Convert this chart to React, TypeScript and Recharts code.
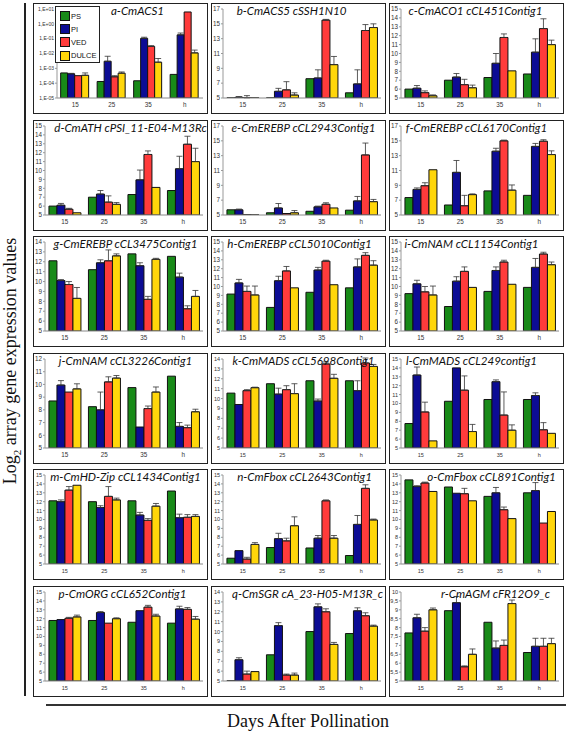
import React from "react";
import { BarChart, Bar, XAxis, YAxis, ErrorBar, Legend } from "recharts";

const groups = ["15", "25", "35", "h"];
const seriesNames = ["PS", "PI", "VED", "DULCE"];
const seriesColors = ["#188a18", "#0c0c94", "#ff3b3b", "#ffd60a"];

// each panel: [PS, PI, VED, DULCE] x [15, 25, 35, h]
const acs1 = [
  [4.9e-4, 1.3e-4, 1.45e-4, 3.9e-4],
  [4.3e-4, 3.0e-3, 0.105, 0.18],
  [3.2e-4, 2.7e-4, 0.03, 6.3],
  [3.4e-4, 4.7e-4, 2.6e-3, 0.011],
];
const acs1Err = [
  [0, 0, 0, 0],
  [3e-5, 3.5e-3, 0.02, 0.06],
  [0, 5e-5, 0.004, 0],
  [1.5e-4, 1e-4, 2e-3, 0.006],
];
const acs5 = [
  [5.02, 5.02, 7.6, 5.7],
  [5.1, 5.9, 7.7, 6.9],
  [5.02, 6.1, 15.5, 14.1],
  [5.02, 5.4, 9.5, 14.5],
];
const acs5Err = [
  [0, 0, 0, 0],
  [0.1, 0.4, 1.1, 1.9],
  [0.3, 1.1, 0.1, 0.8],
  [0, 0.3, 1.1, 0.5],
];
const aco1 = [
  [6.0, 7.0, 7.3, 7.7],
  [6.1, 7.35, 8.9, 10.15],
  [5.6, 6.5, 11.8, 12.8],
  [5.25, 6.15, 8.05, 11.0],
];
const aco1Err = [
  [0, 0, 0, 0],
  [0.3, 0.4, 1.1, 1.5],
  [0.2, 0.6, 0.4, 1.1],
  [0.1, 0.3, 0, 0.5],
];
const ath = [
  [6.0, 7.0, 7.3, 7.75],
  [6.1, 7.35, 8.95, 10.2],
  [5.65, 6.45, 11.8, 12.95],
  [5.25, 6.2, 8.1, 11.0],
];
const athErr = [
  [0, 0, 0, 0],
  [0.2, 0.4, 1.1, 1.4],
  [0.1, 0.7, 0.4, 0.9],
  [0, 0.2, 0, 1.5],
];
const erebp2943 = [
  [5.7, 5.3, 5.5, 5.65],
  [5.7, 5.95, 6.1, 6.9],
  [5.05, 5.2, 6.45, 13.1],
  [5.02, 5.3, 5.95, 6.8],
];
const erebp2943Err = [
  [0, 0, 0, 0],
  [0.1, 0.6, 0.1, 0.6],
  [0, 0, 0.2, 1.6],
  [0, 0.3, 0, 0.3],
];
const erebp6170 = [
  [7.35, 6.35, 8.25, 7.65],
  [8.45, 10.75, 13.6, 14.25],
  [8.95, 6.25, 15.0, 14.95],
  [11.1, 7.75, 8.35, 13.15],
];
const erebp6170Err = [
  [0, 0, 0, 0],
  [0.2, 1.6, 0.4, 0.4],
  [0.4, 1.4, 0.1, 0.2],
  [0, 0.1, 0.7, 0.5],
];
const erebp3475 = [
  [12.1, 11.2, 12.8, 12.55],
  [10.1, 11.9, 11.6, 10.45],
  [9.7, 12.1, 8.2, 7.25],
  [8.3, 12.6, 12.25, 8.5],
];
const erebp3475Err = [
  [0, 0, 0, 0],
  [0.1, 0.3, 0.3, 0.4],
  [0.3, 1.1, 0.3, 0.3],
  [1.1, 0.2, 0.1, 0.6],
];
const erebp5010 = [
  [9.15, 7.65, 9.35, 9.85],
  [10.4, 10.65, 11.85, 12.2],
  [9.45, 11.75, 12.85, 13.5],
  [9.05, 9.85, 10.2, 12.4],
];
const erebp5010Err = [
  [0, 0, 0, 0],
  [0.4, 0.5, 0.3, 0.9],
  [0.6, 0.5, 0.1, 0.3],
  [1.0, 0, 0, 0.5],
];
const nam1154 = [
  [9.2, 7.75, 9.45, 9.9],
  [10.3, 10.6, 11.8, 12.15],
  [9.4, 11.7, 12.75, 13.65],
  [9.05, 9.9, 10.25, 12.45],
];
const nam1154Err = [
  [0, 0, 0, 0],
  [0.4, 0.5, 0.4, 1.0],
  [0.6, 0.5, 0.2, 0.2],
  [1.0, 0, 0, 0.3],
];
const nam3226 = [
  [8.7, 8.25, 9.75, 10.65],
  [9.95, 8.0, 6.65, 6.7],
  [9.4, 10.2, 8.1, 6.6],
  [9.65, 10.5, 9.4, 7.85],
];
const nam3226Err = [
  [0, 0, 0, 0],
  [0.35, 1.4, 0, 0.3],
  [0, 0.4, 0.2, 0.2],
  [0.4, 0.2, 0.4, 0.2],
];
const mads5698 = [
  [10.55, 11.5, 11.8, 11.8],
  [9.4, 10.45, 9.75, 10.8],
  [10.8, 10.9, 13.5, 13.6],
  [11.1, 10.5, 12.05, 13.25],
];
const mads5698Err = [
  [0, 0, 0, 0],
  [0, 0.6, 0.2, 1.0],
  [0.1, 0.4, 0.2, 0.5],
  [0.05, 1.0, 0.4, 0.2],
];
const mads249 = [
  [7.75, 10.25, 10.45, 10.45],
  [13.2, 14.0, 12.45, 10.9],
  [9.05, 11.5, 8.7, 7.05],
  [5.8, 6.85, 7.0, 6.65],
];
const mads249Err = [
  [0, 0, 0, 0],
  [0.9, 0, 0.2, 0.3],
  [1.1, 1.6, 2.6, 0.8],
  [0, 0.8, 0.6, 0],
];
const hdzip = [
  [12.1, 12.0, 12.1, 13.2],
  [12.0, 11.35, 10.5, 10.2],
  [13.3, 12.6, 9.9, 10.25],
  [13.85, 12.2, 11.5, 10.35],
];
const hdzipErr = [
  [0, 0, 0, 0],
  [0.2, 0.2, 0.3, 0.4],
  [0.4, 1.1, 0.2, 0.3],
  [0, 0.2, 0.3, 0.2],
];
const fbox2643 = [
  [5.65, 6.85, 6.8, 5.95],
  [6.5, 7.85, 7.9, 9.45],
  [5.55, 7.6, 12.1, 13.5],
  [7.2, 9.3, 7.9, 9.95],
];
const fbox2643Err = [
  [0, 0, 0, 0],
  [0, 0.6, 0.3, 1.0],
  [0.2, 0.3, 0.1, 0.4],
  [0.2, 1.0, 0.3, 0.1],
];
const fbox891 = [
  [14.45, 13.65, 12.6, 13.0],
  [13.7, 12.95, 13.0, 13.25],
  [14.1, 12.9, 11.1, 9.6],
  [13.15, 12.1, 10.1, 10.9],
];
const fbox891Err = [
  [0, 0, 0, 0],
  [0.1, 0, 0.6, 0.9],
  [0.1, 0.6, 0.3, 0],
  [0, 0, 0, 0],
];
const org = [
  [11.8, 11.8, 11.6, 11.5],
  [11.9, 12.7, 12.9, 13.1],
  [12.05, 11.5, 13.3, 13.05],
  [12.2, 12.0, 12.3, 11.95],
];
const orgErr = [
  [0, 0, 0, 0],
  [0, 0.1, 0, 0.3],
  [0.1, 0, 0.2, 0.2],
  [0.2, 0.1, 0.2, 0.3],
];
const sgr = [
  [5.03, 7.65, 10.0, 9.8],
  [7.15, 10.6, 12.5, 12.1],
  [5.7, 5.6, 12.0, 11.6],
  [5.95, 5.6, 8.7, 10.55],
];
const sgrErr = [
  [0, 0, 0, 0],
  [0.2, 0.3, 0.3, 0.3],
  [0.3, 0.1, 0.3, 0.3],
  [0, 0.2, 0.2, 0.1],
];
const agm = [
  [7.7, 8.95, 8.3, 6.6],
  [8.55, 9.4, 6.85, 6.95],
  [7.8, 5.8, 7.0, 6.95],
  [9.0, 6.5, 9.35, 7.1],
];
const agmErr = [
  [0, 0, 0, 0],
  [0.2, 0.35, 0.4, 0.45],
  [0.2, 0.05, 0.3, 0.45],
  [0.1, 0.3, 0.2, 0.3],
];

const ticksLog = [1e-5, 1e-4, 1e-3, 1e-2, 1e-1, 1, 10];
const ticks17 = [5, 7, 9, 11, 13, 15, 17];
const ticks15 = [5, 6, 7, 8, 9, 10, 11, 12, 13, 14, 15];
const ticks14 = [5, 6, 7, 8, 9, 10, 11, 12, 13, 14];
const ticks12 = [5, 6, 7, 8, 9, 10, 11, 12];
const ticks10 = [5, 5.5, 6, 6.5, 7, 7.5, 8, 8.5, 9, 9.5, 10];

const panels = [
  { title: "a-CmACS1", values: acs1, errors: acs1Err, ticks: ticksLog },
  { title: "b-CmACS5 cSSH1N10", values: acs5, errors: acs5Err, ticks: ticks17 },
  { title: "c-CmACO1 cCL451Contig1", values: aco1, errors: aco1Err, ticks: ticks15 },
  { title: "d-CmATH cPSI_11-E04-M13Rc", values: ath, errors: athErr, ticks: ticks15 },
  { title: "e-CmEREBP cCL2943Contig1", values: erebp2943, errors: erebp2943Err, ticks: ticks17 },
  { title: "f-CmEREBP cCL6170Contig1", values: erebp6170, errors: erebp6170Err, ticks: ticks17 },
  { title: "g-CmEREBP cCL3475Contig1", values: erebp3475, errors: erebp3475Err, ticks: ticks14 },
  { title: "h-CmEREBP cCL5010Contig1", values: erebp5010, errors: erebp5010Err, ticks: ticks15 },
  { title: "i-CmNAM cCL1154Contig1", values: nam1154, errors: nam1154Err, ticks: ticks15 },
  { title: "j-CmNAM cCL3226Contig1", values: nam3226, errors: nam3226Err, ticks: ticks12 },
  { title: "k-CmMADS cCL5698Contig1", values: mads5698, errors: mads5698Err, ticks: ticks14 },
  { title: "l-CmMADS cCL249contig1", values: mads249, errors: mads249Err, ticks: ticks15 },
  { title: "m-CmHD-Zip cCL1434Contig1", values: hdzip, errors: hdzipErr, ticks: ticks15 },
  { title: "n-CmFbox cCL2643Contig1", values: fbox2643, errors: fbox2643Err, ticks: ticks15 },
  { title: "o-CmFbox cCL891Contig1", values: fbox891, errors: fbox891Err, ticks: ticks15 },
  { title: "p-CmORG cCL652Contig1", values: org, errors: orgErr, ticks: ticks15 },
  { title: "q-CmSGR cA_23-H05-M13R_c", values: sgr, errors: sgrErr, ticks: ticks14 },
  { title: "r-CmAGM cFR12O9_c", values: agm, errors: agmErr, ticks: ticks10 },
];

// layout
const colLeft = [33, 211, 389];
const rowTop = (r: number) => 3 + r * 116.6;
const titleShift = [17, -7, -1, 10, 5, 0, 5, 1, -5, 5, 5, -5, 5, 6, 15, 2, 9, 19];

const logTick = (v: number) => {
  const e = Math.round(Math.log10(v));
  return "1,E" + (e < 0 ? "-" : "+") + String(Math.abs(e)).padStart(2, "0");
};
const commaTick = (v: number) => String(v).replace(".", ",");

function LegendBox() {
  return (
    <div
      style={{
        border: "1.5px solid #222",
        background: "#fff",
        width: 45,
        height: 57,
        boxSizing: "border-box",
        padding: "3px 0 0 4px",
        fontFamily: "Arial, 'Liberation Sans', sans-serif",
        fontSize: 7.5,
        color: "#111",
      }}
    >
      {seriesNames.map((s, i) => (
        <div key={s} style={{ display: "flex", alignItems: "center", height: 13.2 }}>
          <span
            style={{
              display: "inline-block",
              width: 10,
              height: 10,
              background: seriesColors[i],
              border: "1px solid #111",
              boxSizing: "border-box",
              marginRight: 1,
            }}
          />
          {s}
        </div>
      ))}
    </div>
  );
}

function Panel({ index }: { index: number }) {
  const p = panels[index];
  const isLog = p.ticks === ticksLog;
  const data = groups.map((g, gi) => {
    const row: any = { group: g };
    seriesNames.forEach((s, si) => {
      row[s] = p.values[si][gi];
      const e = p.errors[si][gi];
      row[s + "Err"] = e ? [0, e] : null;
    });
    return row;
  });
  const small = index >= 10;
  const tickFont = { fontSize: small ? 5.5 : 6.3, fill: "#333", fontFamily: "Arial, 'Liberation Sans', sans-serif" };
  return (
    <div
      style={{
        position: "absolute",
        left: colLeft[index % 3],
        top: rowTop(Math.floor(index / 3)),
        width: 175,
        height: 111,
        border: "1.5px solid #222",
        boxSizing: "border-box",
        background: "#fff",
      }}
    >
      <BarChart
        width={172}
        height={108}
        data={data}
        margin={{ top: 5, right: 3, left: 0, bottom: 1 }}
        barCategoryGap="10%"
        barGap={0}
      >
        <XAxis
          dataKey="group"
          height={13}
          tickLine={false}
          tickSize={2}
          tickMargin={3}
          interval={0}
          axisLine={{ stroke: "#888" }}
          tick={tickFont}
        />
        <YAxis
          type="number"
          scale={isLog ? "log" : "auto"}
          domain={[p.ticks[0], p.ticks[p.ticks.length - 1]]}
          ticks={p.ticks}
          interval={0}
          width={isLog ? 23 : 11}
          tickSize={2}
          tickMargin={1}
          allowDataOverflow
          axisLine={{ stroke: "#999" }}
          tickLine={{ stroke: "#999" }}
          tick={isLog ? { ...tickFont, fontSize: 5 } : tickFont}
          tickFormatter={isLog ? logTick : commaTick}
        />
        {seriesNames.map((s, si) => (
          <Bar
            key={s}
            dataKey={s}
            fill={seriesColors[si]}
            stroke="#111"
            strokeWidth={1}
            isAnimationActive={false}
          >
            <ErrorBar dataKey={s + "Err"} width={3} stroke="#333" strokeWidth={0.8} />
          </Bar>
        ))}
        {isLog && (
          <Legend
            layout="vertical"
            align="center"
            verticalAlign="middle"
            wrapperStyle={{ left: 21, top: 1.5, width: 45, height: 57 }}
            content={() => <LegendBox />}
          />
        )}
      </BarChart>
      <div
        style={{
          position: "absolute",
          left: 0,
          right: 0,
          top: 0,
          textAlign: "center",
          transform: `translateX(${titleShift[index]}px)`,
          fontFamily: "Lato, 'Open Sans', sans-serif",
          fontStyle: "italic",
          fontSize: 11.6,
          lineHeight: "14px",
          color: "#111",
          whiteSpace: "nowrap",
          pointerEvents: "none",
        }}
      >
        {p.title}
      </div>
    </div>
  );
}

export default function App() {
  return (
    <div
      style={{
        position: "absolute",
        left: 0,
        top: 0,
        width: 567,
        height: 732,
        background: "#fff",
        overflow: "hidden",
      }}
    >
      <div style={{ position: "absolute", left: 24, top: 3, width: 1.5, height: 693, background: "#222" }} />
      <div
        style={{
          position: "absolute",
          left: 10 - 150,
          top: 361 - 11,
          width: 300,
          height: 22,
          lineHeight: "22px",
          textAlign: "center",
          transform: "rotate(-90deg)",
          fontFamily: "'Liberation Serif', 'DejaVu Serif', serif",
          fontSize: 18,
          color: "#111",
          whiteSpace: "nowrap",
        }}
      >
        Log<sub style={{ fontSize: 11 }}>2</sub> array gene expression values
      </div>
      {panels.map((_, i) => (
        <Panel key={i} index={i} />
      ))}
      <div style={{ position: "absolute", left: 46, top: 704, width: 520, height: 2, background: "#333" }} />
      <div
        style={{
          position: "absolute",
          left: 158,
          top: 710,
          width: 300,
          lineHeight: "22px",
          textAlign: "center",
          fontFamily: "'Liberation Serif', 'DejaVu Serif', serif",
          fontSize: 18,
          color: "#111",
          whiteSpace: "nowrap",
        }}
      >
        Days After Pollination
      </div>
    </div>
  );
}
